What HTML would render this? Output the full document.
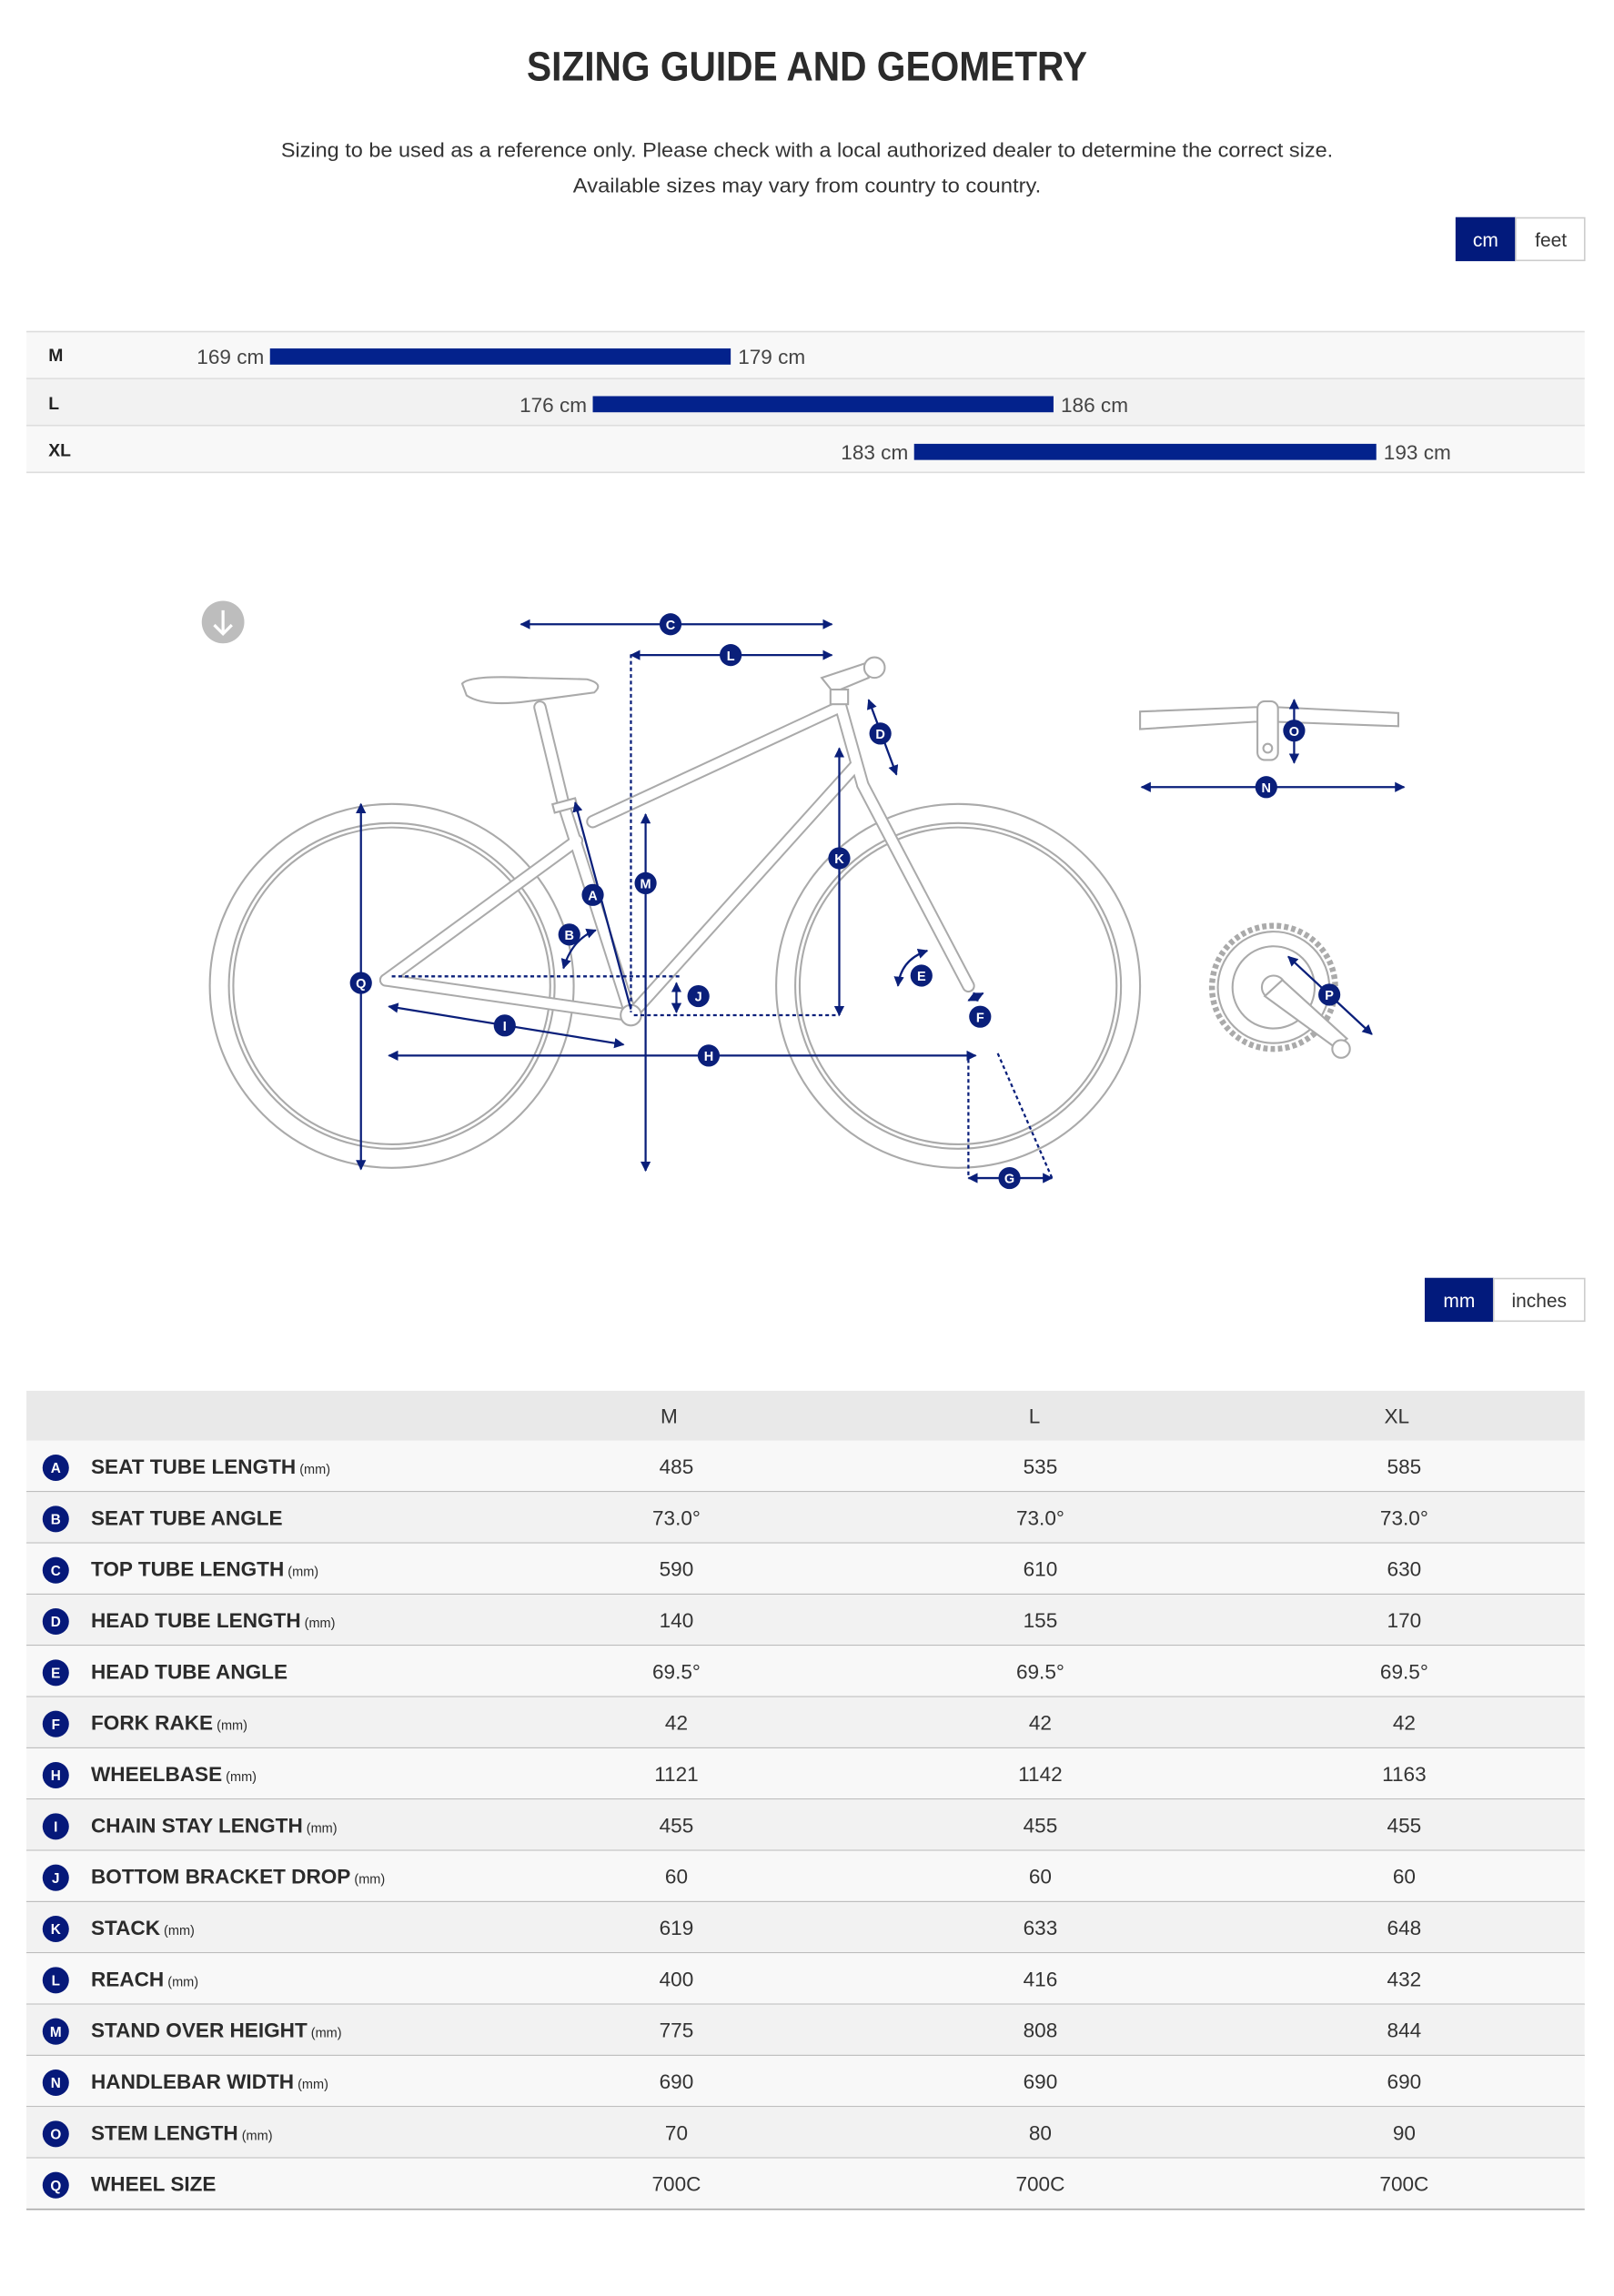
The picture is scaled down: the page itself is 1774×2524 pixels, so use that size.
<!DOCTYPE html>
<html><head><meta charset="utf-8"><style>
html,body{margin:0;padding:0;background:#fff;}
svg{display:block;}
text{font-family:"Liberation Sans",sans-serif;}
</style></head><body>
<svg width="1774" height="2524" viewBox="0 0 1100 1565" xmlns="http://www.w3.org/2000/svg">
<defs>
<marker id="ar" viewBox="0 0 10 10" refX="9" refY="5" markerWidth="5" markerHeight="5" orient="auto-start-reverse"><path d="M0,0L10,5L0,10z" fill="#0a1f7a"/></marker>
</defs>
<!-- header -->
<text x="550" y="55" text-anchor="middle" font-size="28" font-weight="bold" fill="#2b2b2b" textLength="382" lengthAdjust="spacingAndGlyphs">SIZING GUIDE AND GEOMETRY</text>
<text x="550" y="107" text-anchor="middle" font-size="14" fill="#333" textLength="717" lengthAdjust="spacingAndGlyphs">Sizing to be used as a reference only. Please check with a local authorized dealer to determine the correct size.</text>
<text x="550" y="131" text-anchor="middle" font-size="14" fill="#333" textLength="319" lengthAdjust="spacingAndGlyphs">Available sizes may vary from country to country.</text>
<rect x="992" y="148" width="41" height="30" fill="#021a7c"/>
<rect x="1033" y="148.5" width="47" height="29" fill="#fff" stroke="#ccc"/>
<text x="1012.5" y="168" text-anchor="middle" font-size="13" fill="#fff">cm</text>
<text x="1057" y="168" text-anchor="middle" font-size="13" fill="#333">feet</text>
<!-- size rows -->
<rect x="18" y="226" width="1062" height="32" fill="#f8f8f8"/>
<rect x="18" y="258" width="1062" height="32" fill="#f2f2f2"/>
<rect x="18" y="290" width="1062" height="32" fill="#f8f8f8"/>
<g stroke="#ddd" stroke-width="1"><line x1="18" y1="226" x2="1080" y2="226"/><line x1="18" y1="258" x2="1080" y2="258"/><line x1="18" y1="290" x2="1080" y2="290"/><line x1="18" y1="322" x2="1080" y2="322"/></g>
<g font-size="12" font-weight="bold" fill="#222"><text x="33" y="246">M</text><text x="33" y="279">L</text><text x="33" y="311">XL</text></g>
<g fill="#03228c"><rect x="184" y="237.5" width="314" height="11"/><rect x="404" y="270" width="314" height="11"/><rect x="623" y="302.5" width="315" height="11"/></g>
<g font-size="14" fill="#444">
<text x="180" y="248" text-anchor="end">169 cm</text><text x="503" y="248">179 cm</text>
<text x="400" y="281" text-anchor="end">176 cm</text><text x="723" y="281">186 cm</text>
<text x="619" y="313" text-anchor="end">183 cm</text><text x="943" y="313">193 cm</text>
</g>
<!-- download icon -->
<circle cx="152" cy="424" r="14.5" fill="#bdbdbd"/>
<path d="M152,416V432M146,426L152,432L158,426" stroke="#fff" stroke-width="2" fill="none"/>
<!-- bike (grey outlines) -->
<g fill="none" stroke="#aaa" stroke-width="1.3">
<circle cx="267" cy="672" r="124"/><circle cx="267" cy="672" r="111"/><circle cx="267" cy="672" r="108"/>
<circle cx="653" cy="672" r="124"/><circle cx="653" cy="672" r="111"/><circle cx="653" cy="672" r="108"/>
</g>
<g fill="none" stroke-linecap="round" stroke-linejoin="round">
<g stroke="#aaa" stroke-width="9">
<path d="M263,668L430,692"/><path d="M263,668L393,573"/><path d="M430,692L384,548"/><path d="M404,560L572,482"/><path d="M430,692L583,522"/><path d="M572,478L588,535"/><path d="M588,535L660,672"/><path d="M384,548L368,482"/>
</g>
<g stroke="#fff" stroke-width="6.5">
<path d="M263,668L430,692"/><path d="M263,668L393,573"/><path d="M430,692L384,548"/><path d="M404,560L572,482"/><path d="M430,692L583,522"/><path d="M572,478L588,535"/><path d="M588,535L660,672"/><path d="M384,548L368,482"/>
</g>
</g>
<g fill="#fff" stroke="#aaa" stroke-width="1.3">
<path d="M315,466Q320,460 360,462L400,463Q412,466 405,472L360,478Q330,482 318,474Z"/>
<rect x="377" y="546" width="16" height="6" transform="rotate(-15 385 549)"/>
<circle cx="430" cy="692" r="7"/>
<path d="M560,462L590,452L592,462L568,472Z"/>
<circle cx="596" cy="455" r="7"/>
<rect x="566" y="470" width="12" height="10"/>
</g>
<!-- handlebar top view -->
<g fill="#fff" stroke="#aaa" stroke-width="1.3">
<path d="M777,485L855,482L870,482L953,486L953,495L870,492L855,492L777,497Z"/>
<rect x="857" y="478" width="14" height="40" rx="5"/>
<circle cx="864" cy="510" r="3"/>
</g>
<!-- chainring -->
<g fill="none" stroke="#aaa" stroke-width="1.3">
<circle cx="868" cy="673" r="42" stroke-dasharray="3 2" stroke-width="4"/>
<circle cx="868" cy="673" r="38" fill="#fff"/>
<circle cx="868" cy="673" r="28"/>
<circle cx="868" cy="673" r="8"/>
<path d="M862,679L910,714L918,708L874,668Z" fill="#fff"/>
<circle cx="914" cy="715" r="6" fill="#fff"/>
</g>
<!-- dimension lines -->
<g stroke="#0a1f7a" stroke-width="1.4" fill="none">
<line x1="355" y1="425.5" x2="567" y2="425.5" marker-start="url(#ar)" marker-end="url(#ar)"/>
<line x1="430" y1="446.5" x2="567" y2="446.5" marker-start="url(#ar)" marker-end="url(#ar)"/>
<line x1="592" y1="477" x2="611" y2="528" marker-start="url(#ar)" marker-end="url(#ar)"/>
<line x1="572" y1="510" x2="572" y2="692" marker-start="url(#ar)" marker-end="url(#ar)"/>
<line x1="440" y1="555" x2="440" y2="798" marker-start="url(#ar)" marker-end="url(#ar)"/>
<line x1="392" y1="547" x2="430" y2="688" marker-start="url(#ar)"/>
<path d="M384,660Q390,640 406,634" marker-start="url(#ar)" marker-end="url(#ar)"/>
<line x1="461" y1="670" x2="461" y2="690" marker-start="url(#ar)" marker-end="url(#ar)"/>
<line x1="246" y1="548" x2="246" y2="797" marker-start="url(#ar)" marker-end="url(#ar)"/>
<line x1="265" y1="686" x2="425" y2="712" marker-start="url(#ar)" marker-end="url(#ar)"/>
<line x1="265" y1="719.5" x2="665" y2="719.5" marker-start="url(#ar)" marker-end="url(#ar)"/>
<path d="M612,672Q614,654 632,648" marker-start="url(#ar)" marker-end="url(#ar)"/>
<line x1="660" y1="682" x2="670" y2="677" marker-start="url(#ar)" marker-end="url(#ar)"/>
<line x1="660" y1="803" x2="717" y2="803" marker-start="url(#ar)" marker-end="url(#ar)"/>
<line x1="882" y1="477" x2="882" y2="520" marker-start="url(#ar)" marker-end="url(#ar)"/>
<line x1="778" y1="536.5" x2="957" y2="536.5" marker-start="url(#ar)" marker-end="url(#ar)"/>
<line x1="878" y1="652" x2="935" y2="705" marker-start="url(#ar)" marker-end="url(#ar)"/>
<g stroke-dasharray="2.5 2">
<line x1="430" y1="446" x2="430" y2="690"/>
<line x1="432" y1="692" x2="572" y2="692"/>
<line x1="267" y1="665.5" x2="463" y2="665.5"/>
<line x1="660" y1="722" x2="660" y2="803"/>
<line x1="680" y1="718" x2="717" y2="803"/>
</g>
</g>
<g font-size="9" font-weight="bold" text-anchor="middle">
<g fill="#0a1f7a">
<circle cx="457" cy="425.5" r="7.5"/><circle cx="498" cy="446.5" r="7.5"/><circle cx="600" cy="500" r="7.5"/><circle cx="572" cy="585" r="7.5"/><circle cx="440" cy="602" r="7.5"/><circle cx="404" cy="610" r="7.5"/><circle cx="388" cy="637" r="7.5"/><circle cx="476" cy="679" r="7.5"/><circle cx="246" cy="670" r="7.5"/><circle cx="344" cy="699" r="7.5"/><circle cx="483" cy="719.5" r="7.5"/><circle cx="628" cy="665" r="7.5"/><circle cx="668" cy="693" r="7.5"/><circle cx="688" cy="803" r="7.5"/><circle cx="882" cy="498" r="7.5"/><circle cx="863" cy="536.5" r="7.5"/><circle cx="906" cy="678" r="7.5"/>
</g>
<g fill="#fff">
<text x="457" y="429">C</text><text x="498" y="450">L</text><text x="600" y="503.5">D</text><text x="572" y="588.5">K</text><text x="440" y="605.5">M</text><text x="404" y="613.5">A</text><text x="388" y="640.5">B</text><text x="476" y="682.5">J</text><text x="246" y="673.5">Q</text><text x="344" y="702.5">I</text><text x="483" y="723">H</text><text x="628" y="668.5">E</text><text x="668" y="696.5">F</text><text x="688" y="806.5">G</text><text x="882" y="501.5">O</text><text x="863" y="540">N</text><text x="906" y="681.5">P</text>
</g>
</g>
<!-- mm toggle -->
<rect x="971" y="871" width="47" height="30" fill="#021a7c"/>
<rect x="1018" y="871.5" width="62" height="29" fill="#fff" stroke="#ccc"/>
<text x="994.5" y="891" text-anchor="middle" font-size="13" fill="#fff">mm</text>
<text x="1049" y="891" text-anchor="middle" font-size="13" fill="#333">inches</text>
<!-- geometry table -->
<rect x="18" y="948" width="1062" height="34" fill="#e9e9e9"/>
<g font-size="14" fill="#333" text-anchor="middle"><text x="456" y="970">M</text><text x="705" y="970">L</text><text x="952" y="970">XL</text></g>
<g id="rows"></g>
</svg>
<script>
var d=[["A","SEAT TUBE LENGTH",1,"485","535","585"],["B","SEAT TUBE ANGLE",0,"73.0°","73.0°","73.0°"],["C","TOP TUBE LENGTH",1,"590","610","630"],["D","HEAD TUBE LENGTH",1,"140","155","170"],["E","HEAD TUBE ANGLE",0,"69.5°","69.5°","69.5°"],["F","FORK RAKE",1,"42","42","42"],["H","WHEELBASE",1,"1121","1142","1163"],["I","CHAIN STAY LENGTH",1,"455","455","455"],["J","BOTTOM BRACKET DROP",1,"60","60","60"],["K","STACK",1,"619","633","648"],["L","REACH",1,"400","416","432"],["M","STAND OVER HEIGHT",1,"775","808","844"],["N","HANDLEBAR WIDTH",1,"690","690","690"],["O","STEM LENGTH",1,"70","80","90"],["Q","WHEEL SIZE",0,"700C","700C","700C"]];
var s="",h=34.93;
d.forEach(function(r,i){var y=982+i*h,c=y+h/2;
s+='<rect x="18" y="'+y+'" width="1062" height="'+h+'" fill="'+(i%2?'#f2f2f2':'#f8f8f8')+'"/>';
s+='<line x1="18" y1="'+(y+h)+'" x2="1080" y2="'+(y+h)+'" stroke="#aaa" stroke-width="1"/>';
s+='<circle cx="38" cy="'+(c+1)+'" r="9" fill="#06197a"/><text x="38" y="'+(c+4.5)+'" text-anchor="middle" font-size="9.5" font-weight="bold" fill="#fff">'+r[0]+'</text>';
s+='<text x="62" y="'+(c+5)+'" font-size="14" font-weight="bold" fill="#2b2b2b">'+r[1]+(r[2]?'<tspan font-size="9" font-weight="normal"> (mm)</tspan>':'')+'</text>';
[461,709,957].forEach(function(x,j){s+='<text x="'+x+'" y="'+(c+5)+'" text-anchor="middle" font-size="14" fill="#333">'+r[3+j]+'</text>';});
});
document.getElementById('rows').innerHTML=s;
</script>
</body></html>
